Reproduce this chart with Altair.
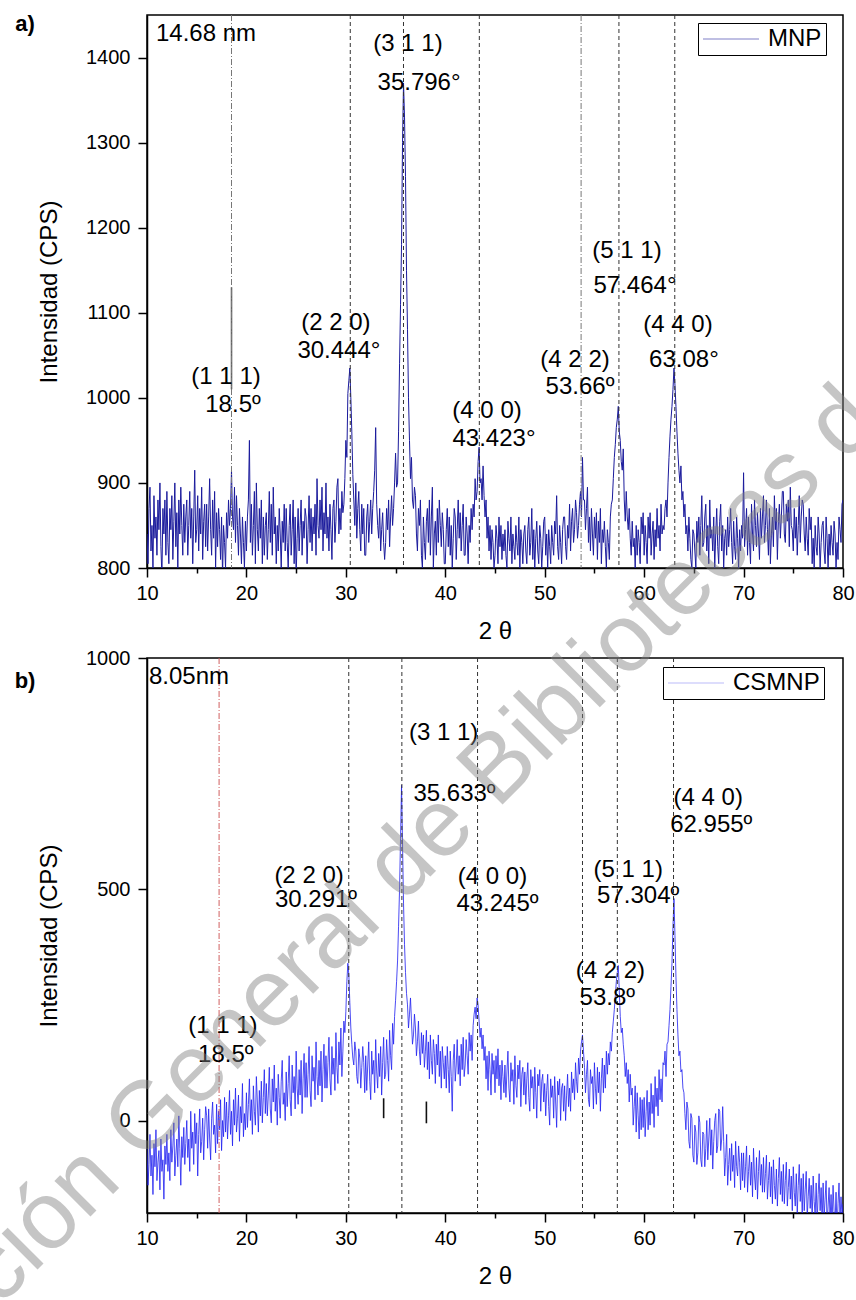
import altair as alt
import pandas as pd

FONT = "Liberation Sans"

# ---------------- data ----------------
SCAN_START = 10.0   # 2-theta of first reading
SCAN_STEP = 0.1     # 2-theta sampling of the readings below

# panel a) MNP intensities (CPS), 10.0 .. 80.0 (one row = 2 degrees)
mnp_counts = [
    840, 805, 870, 895, 820, 850, 800, 885, 835, 860, 815, 880, 845, 900, 825, 790, 870, 840, 880, 815,
    890, 830, 805, 870, 845, 885, 810, 855, 900, 825, 865, 800, 880, 840, 895, 850, 815, 875, 830, 860,
    880, 815, 850, 890, 835, 870, 805, 860, 915, 830, 845, 885, 820, 870, 840, 895, 810, 855, 875, 825,
    875, 820, 860, 905, 845, 815, 880, 835, 890, 800, 865, 825, 870, 845, 810, 860, 790, 850, 830, 800,
    865, 835, 880, 850, 870, 915, 860, 845, 895, 830, 885, 850, 815, 870, 840, 805, 860, 830, 800, 855,
    820, 860, 880, 950, 830, 875, 815, 850, 890, 805, 900, 845, 820, 870, 835, 880, 805, 860, 815, 850,
    865, 810, 845, 890, 830, 875, 815, 895, 840, 860, 805, 850, 820, 870, 840, 800, 855, 830, 875, 820,
    870, 830, 800, 850, 875, 815, 845, 880, 805, 860, 790, 835, 870, 820, 850, 880, 815, 855, 835, 870,
    860, 805, 845, 885, 830, 870, 820, 860, 840, 875, 815, 905, 850, 835, 880, 845, 895, 820, 865, 840,
    900, 835, 860, 820, 875, 845, 810, 870, 880, 830, 855, 895, 905, 840, 870, 845, 890, 865, 875, 905,
    950, 930, 1005, 1020, 1035, 1000, 960, 910, 880, 850, 900, 835, 870, 890, 845, 820, 875, 840, 870, 815,
    815, 860, 875, 830, 855, 880, 840, 870, 890, 915, 965, 875, 850, 835, 870, 820, 845, 865, 830, 810,
    830, 870, 845, 880, 825, 860, 885, 850, 870, 900, 935, 895, 900, 960, 1040, 1110, 1180, 1300, 1370, 1330,
    1260, 1150, 1080, 1000, 950, 905, 930, 880, 870, 895, 885, 840, 820, 870, 850, 880, 815, 800, 860, 830,
    810, 855, 870, 830, 880, 815, 860, 895, 800, 840, 855, 815, 870, 830, 880, 850, 825, 865, 845, 805,
    805, 845, 870, 825, 860, 815, 850, 800, 835, 870, 860, 810, 845, 880, 835, 865, 820, 850, 875, 815,
    815, 860, 840, 805, 850, 830, 870, 845, 875, 860, 905, 880, 890, 925, 942, 900, 905, 880, 920, 885,
    860, 880, 835, 860, 820, 850, 810, 845, 830, 800, 815, 850, 835, 805, 860, 825, 850, 810, 840, 820,
    845, 815, 800, 855, 835, 820, 860, 805, 840, 825, 810, 850, 830, 815, 860, 800, 845, 830, 805, 840,
    850, 820, 805, 845, 860, 815, 830, 870, 810, 845, 800, 835, 855, 820, 805, 850, 835, 800, 825, 855,
    860, 815, 840, 800, 845, 825, 805, 850, 830, 815, 855, 840, 885, 825, 810, 850, 830, 805, 845, 860,
    860, 825, 810, 850, 835, 875, 820, 855, 870, 830, 845, 880, 865, 835, 850, 875, 890, 860, 930, 880,
    880, 845, 870, 895, 830, 860, 820, 870, 840, 815, 860, 835, 865, 810, 855, 830, 870, 805, 845, 830,
    855, 825, 800, 845, 830, 810, 860, 875, 880, 905, 930, 945, 965, 975, 990, 960, 950, 925, 915, 940,
    880, 855, 890, 860, 845, 870, 835, 815, 855, 825, 835, 800, 850, 815, 845, 830, 805, 860, 840, 865,
    815, 850, 830, 805, 860, 835, 865, 815, 840, 855, 810, 845, 825, 870, 835, 850, 820, 875, 840, 850,
    845, 870, 880, 860, 900, 930, 955, 975, 990, 1010, 1035, 1015, 990, 960, 935, 915, 900, 920, 880, 890,
    860, 875, 840, 850, 820, 860, 835, 810, 800, 845, 840, 820, 800, 855, 830, 860, 815, 850, 885, 825,
    830, 860, 875, 820, 850, 805, 880, 835, 845, 820, 860, 800, 840, 870, 825, 805, 855, 875, 820, 850,
    800, 835, 845, 815, 860, 825, 845, 870, 830, 805, 855, 825, 810, 860, 835, 800, 845, 820, 850, 835,
    912, 825, 845, 870, 815, 860, 830, 805, 875, 840, 820, 880, 850, 825, 865, 840, 810, 870, 835, 860,
    885, 830, 850, 880, 845, 815, 870, 805, 840, 860, 825, 885, 845, 870, 810, 855, 875, 835, 860, 890,
    890, 840, 830, 875, 855, 880, 825, 895, 850, 845, 820, 870, 835, 860, 815, 850, 885, 830, 860, 880,
    875, 840, 820, 860, 835, 815, 870, 845, 860, 805, 835, 800, 850, 825, 815, 860, 840, 800, 830, 850,
    855, 820, 805, 860, 835, 800, 840, 815, 850, 830, 815, 855, 840, 800, 830, 810, 860, 845, 830, 875,
    880,
]

# panel b) CSMNP intensities (CPS), 10.0 .. 80.0 (one row = 2 degrees)
csmnp_counts = [
    -60, -140, -95, -30, -120, -75, -160, -50, -100, -20, -130, -90, -65, -150, -40, -110, -85, -170, -55, -95,
    -30, -110, -70, -130, -20, -90, -55, -5, -120, -75, -40, -100, 10, -60, -140, -35, -80, -15, -95, -50,
    0, -80, -40, -110, 20, -60, -25, -95, 15, -50, -5, -120, -30, 25, -70, -45, 5, -85, -20, 30,
    10, -60, 25, -40, -85, 5, 40, -30, -10, -70, 35, -50, 20, -20, 45, -65, 0, -35, 50, -25,
    40, -40, 10, 65, -30, 20, -55, 45, -10, 70, -25, 5, 55, -45, 30, -5, 80, -35, 15, -20,
    60, -15, 35, 90, 0, 45, -30, 75, 20, -10, 95, 40, -25, 65, 10, 85, -5, 50, 110, 15,
    80, 10, 55, 115, 25, -5, 90, 40, 120, 20, 70, -10, 100, 50, 5, 85, 130, 35, 60, 0,
    105, 30, 80, 140, 45, 10, 120, 60, 95, 25, 150, 70, 35, 110, 55, 130, 15, 90, 145, 50,
    125, 50, 100, 160, 65, 30, 140, 85, 115, 45, 170, 95, 55, 130, 75, 150, 40, 110, 165, 70,
    140, 70, 125, 180, 90, 55, 160, 100, 135, 65, 190, 115, 80, 170, 120, 200, 95, 150, 215, 190,
    235, 300, 340, 315, 255, 200, 165, 135, 120, 170, 150, 95, 80, 155, 135, 70, 115, 160, 125, 60,
    140, 65, 120, 170, 85, 45, 150, 100, 130, 60, 175, 105, 70, 145, 95, 160, 55, 125, 180, 90,
    100, 175, 130, 85, 195, 140, 110, 210, 165, 225, 260, 300, 345, 420, 500, 610, 725, 600, 470, 380,
    320, 275, 250, 200, 230, 265, 215, 165, 185, 230, 200, 140, 170, 215, 150, 120, 190, 145, 185, 115,
    150, 195, 110, 170, 90, 185, 130, 100, 175, 145, 80, 165, 120, 185, 95, 150, 70, 160, 125, 90,
    140, 70, 160, 110, 60, 150, 95, 20, 130, 165, 85, 120, 175, 100, 140, 75, 165, 110, 180, 95,
    120, 175, 140, 100, 190, 150, 185, 130, 205, 230, 245, 220, 265, 250, 215, 180, 200, 155, 185, 130,
    160, 90, 140, 65, 150, 110, 55, 145, 100, 130, 60, 140, 90, 155, 75, 120, 45, 130, 95, 60,
    120, 50, 105, 150, 70, 40, 125, 85, 110, 35, 140, 75, 50, 120, 90, 130, 30, 100, 115, 55,
    105, 35, 90, 125, 50, 20, 110, 70, 95, 25, 115, 60, 5, 100, 75, 110, 20, 85, 100, 40,
    80, 10, 65, 100, 30, -10, 90, 50, 75, 5, 95, 40, -15, 85, 55, 90, 0, 70, 80, 20,
    75, 0, 55, 100, 30, 70, 20, 105, 60, 90, 45, 125, 85, 60, 135, 100, 150, 170, 185, 150,
    115, 60, 100, 130, 45, 30, 110, 80, 95, 25, 125, 70, 35, 115, 60, 105, 20, 90, 135, 60,
    120, 70, 150, 100, 145, 120, 170, 150, 190, 215, 240, 270, 300, 320, 335, 280, 225, 190, 200, 165,
    140, 95, 125, 80, 110, 40, 100, 55, 70, -10, 30, 75, -25, 60, 10, -40, 50, -20, 45, -15,
    50, -35, 20, 65, -20, 40, -10, 80, 15, 55, -15, 95, 30, 70, 10, 110, 45, 90, 40, 125,
    120, 150, 95, 165, 170, 205, 240, 290, 340, 420, 480, 400, 310, 240, 185, 140, 150, 105, 110, 70,
    60, 15, -20, 40, 25, -45, -60, 15, 5, -75, -90, -10, -25, -95, -70, 10, -5, -85, -100, -25,
    -30, -100, -60, 0, -85, -40, 5, -75, -20, -105, -45, 0, 15, -70, -55, 25, 20, -65, -40, 30,
    -45, -120, -80, -30, -140, -95, -60, -130, -50, -110, -75, -145, -45, -100, -120, -55, -90, -150, -70, -130,
    -70, -145, -100, -55, -155, -110, -75, -140, -90, -165, -60, -120, -150, -80, -170, -110, -65, -140, -95, -155,
    -80, -155, -115, -75, -170, -130, -90, -165, -100, -180, -85, -140, -170, -105, -185, -125, -80, -160, -110, -175,
    -95, -180, -130, -90, -185, -145, -105, -170, -120, -195, -100, -155, -185, -115, -200, -140, -95, -175, -125, -205,
    -115, -195, -150, -110, -210, -165, -125, -190, -140, -215, -120, -175, -205, -135, -220, -160, -115, -195, -145, -220,
    -135, -210, -170, -130, -225, -185, -145, -215, -160, -230, -140, -195, -225, -155, -235, -180, -135, -215, -165, -205,
    -180,
]

# reflection marker lines (2-theta)
mnp_dashed = [30.444, 35.796, 43.423, 57.464, 63.08]
mnp_dashdot = [18.5, 53.66]
csmnp_dashed = [30.291, 35.633, 43.245, 53.8, 57.304, 62.955]
csmnp_reddot = [17.25]

# short stray segments seen in the figure
mnp_seg_x = [18.5]
mnp_seg_y1 = [1010]
mnp_seg_y2 = [1130]
csmnp_seg_x = [33.8, 38.1]
csmnp_seg_y1 = [5, -6]
csmnp_seg_y2 = [48, 41]

# annotations (text, x in 2-theta, y in CPS)
mnp_labels = ["(3 1 1)", "35.796\u00b0", "(2 2 0)", "30.444\u00b0", "(1 1 1)", "18.5\u00ba",
              "(4 0 0)", "43.423\u00b0", "(4 2 2)", "53.66\u00ba", "(5 1 1)", "57.464\u00b0",
              "(4 4 0)", "63.08\u00b0"]
mnp_label_x = [36.25, 37.36, 29.0, 29.3, 17.95, 18.65, 44.2, 44.9, 53.05, 53.55, 58.27, 59.08, 63.4, 64.0]
mnp_label_y = [1416, 1370, 1088, 1055, 1025, 992, 984, 952, 1044, 1013, 1173, 1131, 1086, 1045]

csmnp_labels = ["(3 1 1)", "35.633\u00ba", "(2 2 0)", "30.291\u00ba", "(4 0 0)", "43.245\u00ba",
                "(5 1 1)", "57.304\u00ba", "(4 4 0)", "62.955\u00ba", "(4 2 2)", "53.8\u00ba",
                "(1 1 1)", "18.5\u00ba"]
csmnp_label_x = [39.83, 40.93, 26.3, 27.0, 44.75, 45.25, 58.4, 59.4, 66.45, 66.75, 56.6, 56.3, 17.63, 17.93]
csmnp_label_y = [838, 706, 529, 476, 527, 468, 542, 485, 697, 639, 323, 264, 204, 141]

mnp_size = ["14.68 nm"]
csmnp_size = ["8.05nm"]
mnp_size_x, mnp_size_y = [10.9], [1428]
csmnp_size_x, csmnp_size_y = [10.2], [959]

WATERMARK = ["ci\u00f3n General de Bibliotecas d"]

# ---------------- chart ----------------
XS = alt.Scale(domain=[10, 80], nice=False, zero=False)
YA = alt.Scale(domain=[800, 1450], nice=False, zero=False)
YB = alt.Scale(domain=[-200, 1000], nice=False, zero=False)


def scan_axis(n):
    return [round(SCAN_START + SCAN_STEP * i, 1) for i in range(n)]


def main_x_axis():
    return alt.Axis(values=[10, 20, 30, 40, 50, 60, 70, 80], tickSize=9, labelPadding=6,
                    title="2 \u03b8", titlePadding=16, labelFlush=False, format="d",
                    orient="bottom")


def minor_x_axis():
    return alt.Axis(values=[15, 25, 35, 45, 55, 65, 75], tickSize=5, labels=False,
                    domain=False, title=None, orient="bottom")


def one(**kw):
    return pd.DataFrame({k: v for k, v in kw.items()})


def build_panel(counts, serie, color, opacity, width_px, sym_opacity, yscale, yvals, dashed, dd,
                dd_color, seg_x, seg_y1, seg_y2, seg_color, labels, lx, ly, size_txt, sx, sy,
                tag, tag_y, leg_x, leg_y, w, h, extra_top=None, extra_bottom=None):
    df = pd.DataFrame({"tt": scan_axis(len(counts)), "I": counts, "serie": serie})
    line = alt.Chart(df).mark_line(clip=True, strokeWidth=width_px, opacity=opacity).encode(
        x=alt.X("tt:Q", scale=XS, axis=main_x_axis()),
        y=alt.Y("I:Q", scale=yscale,
                axis=alt.Axis(values=yvals, tickSize=9, labelPadding=8, format="d", orient="left",
                              title="Intensidad (CPS)", titlePadding=24, labelFlush=False)),
        color=alt.Color("serie:N", scale=alt.Scale(domain=[serie], range=[color]),
                        legend=alt.Legend(title=None, orient="none", legendX=leg_x, legendY=leg_y,
                                          symbolType="stroke", symbolSize=3136,
                                          symbolStrokeWidth=1.2, symbolOpacity=sym_opacity,
                                          clipHeight=24, labelFontSize=24, labelFont=FONT,
                                          labelColor="black", labelOffset=8, padding=4,
                                          strokeColor="black", fillColor="white")),
        order="tt:Q",
    )
    segs = alt.Chart(one(x=seg_x, y1=seg_y1, y2=seg_y2)).mark_rule(
        color=seg_color, strokeWidth=1.6).encode(
        x=alt.X("x:Q", scale=XS, axis=None),
        y=alt.Y("y1:Q", scale=yscale, axis=None),
        y2="y2:Q",
    )
    rules = alt.Chart(one(pos=dashed)).mark_rule(
        color="#333333", strokeWidth=1, strokeDash=[4, 3]).encode(
        x=alt.X("pos:Q", scale=XS, axis=minor_x_axis()))
    rules_dd = alt.Chart(one(pos=dd)).mark_rule(
        color=dd_color, strokeWidth=1, strokeDash=[6, 2, 1, 2]).encode(
        x=alt.X("pos:Q", scale=XS, axis=None))
    ann = alt.Chart(one(label=labels, x=lx, y=ly)).mark_text(
        font=FONT, fontSize=24, align="center", baseline="middle", color="black").encode(
        x=alt.X("x:Q", scale=XS, axis=None),
        y=alt.Y("y:Q", scale=yscale, axis=None),
        text="label:N")
    size = alt.Chart(one(label=size_txt, x=sx, y=sy)).mark_text(
        font=FONT, fontSize=24, align="left", baseline="middle", color="black").encode(
        x=alt.X("x:Q", scale=XS, axis=None),
        y=alt.Y("y:Q", scale=yscale, axis=None),
        text="label:N")
    tagc = alt.Chart(one(t=[tag])).mark_text(
        font=FONT, fontSize=22, fontWeight="bold", align="center", baseline="middle",
        color="black").encode(x=alt.value(-122), y=alt.value(tag_y), text="t:N")
    layers = []
    if extra_top is not None:
        layers.append(extra_top)
    layers += [line, segs, rules, rules_dd, ann, size, tagc]
    if extra_bottom is not None:
        layers.append(extra_bottom)
    return alt.layer(*layers).resolve_axis(x="independent", y="independent").properties(
        width=w, height=h)


# invisible corner marker at the page origin (fixes the layout origin)
corner = alt.Chart(one(t=[0])).mark_rule(opacity=0, strokeWidth=0.01).encode(
    x=alt.value(-146), x2=alt.value(-145), y=alt.value(-14), y2=alt.value(-14))

watermark = alt.Chart(one(t=WATERMARK)).mark_text(
    font=FONT, fontSize=96, angle=315, align="left", baseline="alphabetic",
    color="#808080", opacity=0.45).encode(x=alt.value(-148), y=alt.value(650), text="t:N")

panel_a = build_panel(mnp_counts, "MNP", "#1b1b9c", 1.0, 1.0, 0.55, YA,
                      [800, 900, 1000, 1100, 1200, 1300, 1400],
                      mnp_dashed, mnp_dashdot, "#777777",
                      mnp_seg_x, mnp_seg_y1, mnp_seg_y2, "#666666",
                      mnp_labels, mnp_label_x, mnp_label_y, mnp_size, mnp_size_x, mnp_size_y,
                      "a)", 9, 551, 8, 696, 553, extra_top=corner)

panel_b = build_panel(csmnp_counts, "CSMNP", "#2222f0", 0.9, 0.9, 0.3, YB,
                      [0, 500, 1000],
                      csmnp_dashed, csmnp_reddot, "#d06060",
                      csmnp_seg_x, csmnp_seg_y1, csmnp_seg_y2, "#111111",
                      csmnp_labels, csmnp_label_x, csmnp_label_y, csmnp_size, csmnp_size_x,
                      csmnp_size_y, "b)", 23, 516, 9, 696, 555, extra_bottom=watermark)

chart = alt.vconcat(panel_a, panel_b, spacing=90, bounds="flush",
                    padding={"left": -57, "top": 0, "right": -41, "bottom": -25}).resolve_scale(
    x="independent", y="independent", color="independent"
).configure(font=FONT).configure_view(
    stroke="black", strokeWidth=1.5
).configure_axis(
    domainColor="black", domainWidth=1.5, tickColor="black", tickWidth=1.5,
    labelColor="black", labelFont=FONT, labelFontSize=20,
    titleFont=FONT, titleFontSize=24, titleFontWeight="normal", titleColor="black",
    grid=False,
)

chart.save("out.html", embed_options={"renderer": "svg", "actions": False})
